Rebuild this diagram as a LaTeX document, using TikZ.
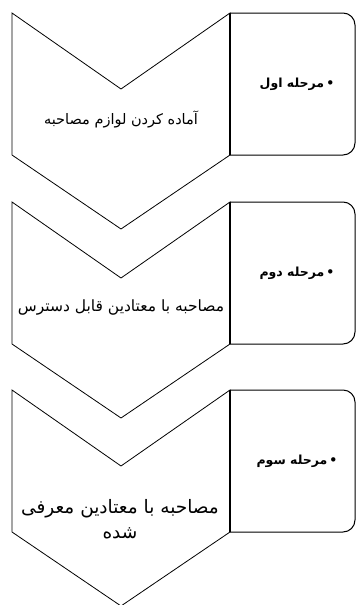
\documentclass[tikz,border=0pt]{standalone}
\usepackage{fontspec}
\newfontfamily\arabicfont[Script=Arabic]{DejaVu Sans}
\TeXXeTstate=1
\begin{document}
\begin{tikzpicture}[x=1pt,y=-1pt]
  \tikzset{
    chev/.style={draw=black,line width=0.8pt,line join=miter},
    stagebox/.style={draw=black,line width=1pt,rounded corners=12pt},
    stageedge/.style={draw=black,line width=2pt},
    stagename/.style={inner sep=0pt,font=\arabicfont\bfseries\fontsize{12.5}{14}\selectfont},
    stagetext/.style={inner sep=0pt,align=center},
  }
  \useasboundingbox (0,0) rectangle (356,605);
  % chevrons and side boxes
  \foreach \t in {13,202,390}{
    \draw[chev] (12,\t) -- (121,\t+76) -- (230,\t) -- (230,\t+142)
                -- (121,\t+216) -- (12,\t+142) -- cycle;
    \draw[stagebox] (230,\t) -- (355,\t) -- (355,\t+142) -- (230,\t+142);
    \draw[stageedge] (230,\t) -- (230,\t+142);
  }

  \node[stagename] (n1) at (297,84) {\beginR •\,مرحله اول\endR};
  \node[stagename] (n2) at (297,273) {\beginR •\,مرحله دوم\endR};
  \node[stagename] (n3) at (297,461) {\beginR •\,مرحله سوم\endR};

  \node[stagetext,font=\arabicfont\fontsize{14.5}{16}\selectfont] (t1) at (121,119)
    {\beginR آماده کردن لوازم مصاحبه\endR};
  \node[stagetext,font=\arabicfont\fontsize{15.5}{17}\selectfont] (t2) at (121,308)
    {\beginR مصاحبه با معتادین قابل دسترس\endR};
  \node[stagetext,font=\arabicfont\fontsize{18.5}{25}\selectfont] (t3) at (120,519)
    {\beginR مصاحبه با معتادین معرفی\endR\\\beginR شده\endR};
\end{tikzpicture}
\end{document}
